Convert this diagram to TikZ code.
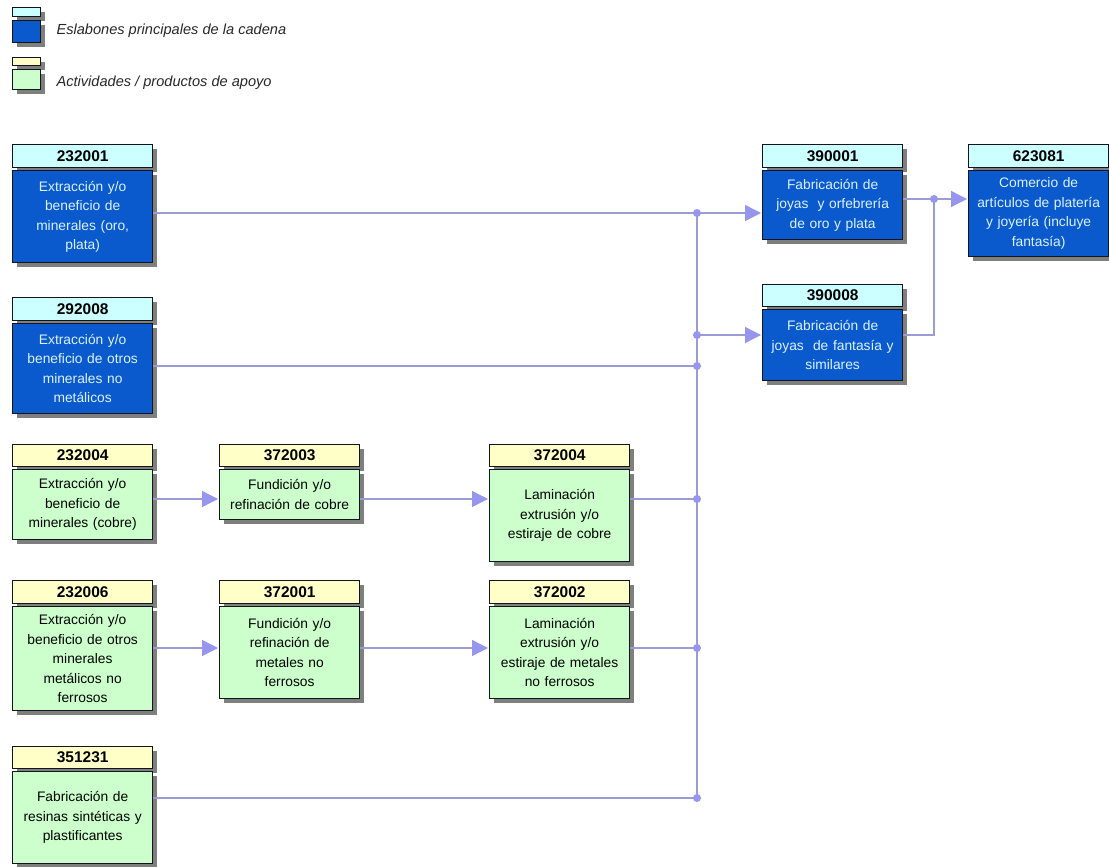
\documentclass[tikz,border=0pt]{standalone}
\usepackage{fontspec}
\setmainfont{Liberation Sans}
\usetikzlibrary{arrows.meta,shadows}

\definecolor{mainbody}{RGB}{10,90,205}
\definecolor{mainhead}{RGB}{204,255,255}
\definecolor{suphead}{RGB}{255,255,200}
\definecolor{supbody}{RGB}{204,255,204}
\definecolor{edge}{RGB}{20,20,30}
\definecolor{shade}{RGB}{125,128,125}
\definecolor{wire}{RGB}{155,155,215}
\definecolor{tipc}{RGB}{150,150,238}
\definecolor{bluetext}{RGB}{220,242,255}
\definecolor{legendtext}{RGB}{40,40,40}

\tikzset{
  box/.style={draw=edge, line width=1.3pt, anchor=north west, inner sep=0pt,
    general shadow={fill=shade, shadow xshift=4pt, shadow yshift=-4pt}},
  head/.style={box, minimum width=140pt, minimum height=22pt,
    font=\fontsize{15.5}{15.5}\selectfont\bfseries},
  body/.style={box, minimum width=140pt, text width=138pt, align=center,
    font=\fontsize{13.8}{19.5}\selectfont},
  mainhd/.style={head, fill=mainhead},
  mainbd/.style={body, fill=mainbody, text=bluetext},
  suphd/.style={head, fill=suphead},
  supbd/.style={body, fill=supbody, text=black},
  wire/.style={draw=wire, line width=1.4pt},
  feed/.style={wire, shorten >=1pt,
    -{Triangle[length=16pt,width=16pt,fill=tipc,color=tipc]}},
  legend/.style={anchor=base west, text=legendtext,
    font=\itshape\fontsize{14.6}{14.6}\selectfont},
}

\begin{document}
\begin{tikzpicture}[x=1pt,y=-1pt]
\useasboundingbox[fill=white] (0,0) rectangle (1109,867);

% legend
\node[box, fill=mainhead, minimum width=28pt, minimum height=9pt] (lgh1) at (12,7) {};
\node[box, fill=mainbody, minimum width=28pt, minimum height=22pt] (lgb1) at (12,20) {};
\node[legend] (lgt1) at (53,35) {Eslabones principales de la cadena};
\node[box, fill=suphead, minimum width=28pt, minimum height=8pt] (lgh2) at (12,57) {};
\node[box, fill=supbody, minimum width=28pt, minimum height=20pt] (lgb2) at (12,69) {};
\node[legend] (lgt2) at (53,87) {Actividades / productos de apoyo};

% main links of the chain
\node[mainhd, minimum height=23pt] (h232001) at (12,144) {232001};
\node[mainbd, minimum height=92pt] (b232001) at (12,170)
  {Extracción y/o\\beneficio de\\minerales (oro,\\plata)};
\node[mainhd, minimum height=23pt] (h292008) at (12,297) {292008};
\node[mainbd, minimum height=90pt] (b292008) at (12,323)
  {Extracción y/o\\beneficio de otros\\minerales no\\metálicos};
\node[mainhd, minimum height=23pt] (h390001) at (762,144) {390001};
\node[mainbd, minimum height=69pt] (b390001) at (762,170)
  {Fabricación de\\joyas \ y orfebrería\\de oro y plata};
\node[mainhd] (h390008) at (762,284) {390008};
\node[mainbd, minimum height=71pt] (b390008) at (762,309)
  {Fabricación de\\joyas \ de fantasía y\\similares};
\node[mainhd, minimum height=23pt] (h623081) at (968,144) {623081};
\node[mainbd, minimum height=86pt] (b623081) at (968,170)
  {Comercio de\\artículos de platería\\y joyería (incluye\\fantasía)};

% supporting activities
\node[suphd] (h232004) at (12,444) {232004};
\node[supbd, minimum height=70pt] (b232004) at (12,469)
  {Extracción y/o\\beneficio de\\minerales (cobre)};
\node[suphd] (h372003) at (219,444) {372003};
\node[supbd, minimum height=50pt] (b372003) at (219,469)
  {Fundición y/o\\refinación de cobre};
\node[suphd] (h372004) at (489,444) {372004};
\node[supbd, minimum height=92pt] (b372004) at (489,469)
  {Laminación\\extrusión y/o\\estiraje de cobre};
\node[suphd, minimum height=23pt] (h232006) at (12,580) {232006};
\node[supbd, minimum height=104pt] (b232006) at (12,606)
  {Extracción y/o\\beneficio de otros\\minerales\\metálicos no\\ferrosos};
\node[suphd, minimum height=23pt] (h372001) at (219,580) {372001};
\node[supbd, minimum height=92pt] (b372001) at (219,606)
  {Fundición y/o\\refinación de\\metales no\\ferrosos};
\node[suphd, minimum height=23pt] (h372002) at (489,580) {372002};
\node[supbd, minimum height=92pt] (b372002) at (489,606)
  {Laminación\\extrusión y/o\\estiraje de metales\\no ferrosos};
\node[suphd] (h351231) at (12,746) {351231};
\node[supbd, minimum height=92pt] (b351231) at (12,771)
  {Fabricación de\\resinas sintéticas y\\plastificantes};

% junctions
\coordinate (jA) at (697,213);
\coordinate (jB) at (697,335);
\coordinate (jC) at (697,366);
\coordinate (jD) at (697,499);
\coordinate (jE) at (697,648);
\coordinate (jF) at (697,798);
\coordinate (jG) at (934,199);
\coordinate (kG) at (934,335);

% connectors
\draw[wire] (jA) -- (jF);
\draw[wire] (b232001.east |- jA) -- (jA);
\draw[wire] (b292008.east |- jC) -- (jC);
\draw[wire] (b372004.east |- jD) -- (jD);
\draw[wire] (b372002.east |- jE) -- (jE);
\draw[wire] (b351231.east |- jF) -- (jF);
\draw[feed] (jA) -- (b390001.west |- jA);
\draw[feed] (jB) -- (b390008.west |- jB);
\draw[feed] (b232004.east |- jD) -- (b372003.west |- jD);
\draw[feed] (b372003.east |- jD) -- (b372004.west |- jD);
\draw[feed] (b232006.east |- jE) -- (b372001.west |- jE);
\draw[feed] (b372001.east |- jE) -- (b372002.west |- jE);
\draw[wire] (b390001.east |- jG) -- (jG);
\draw[wire] (b390008.east |- kG) -- (kG) -- (jG);
\draw[feed] (jG) -- (b623081.west |- jG);

\foreach \j in {jA,jB,jC,jD,jE,jF,jG}
  \fill[tipc] (\j) circle (4pt);
\end{tikzpicture}
\end{document}
